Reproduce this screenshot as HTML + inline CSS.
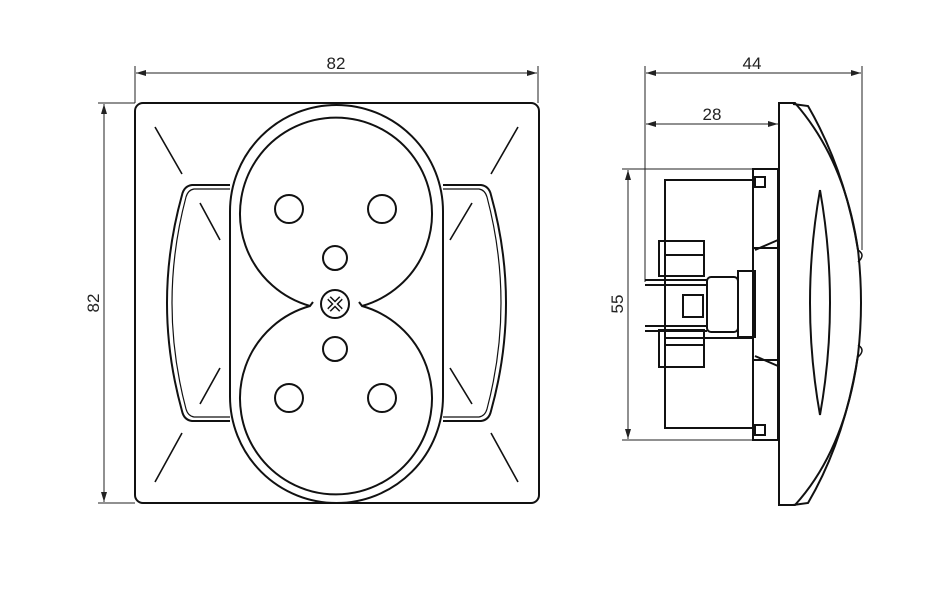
<!DOCTYPE html>
<html><head><style>html,body{margin:0;background:#fff}svg{display:block}</style></head><body>
<svg width="931" height="608" viewBox="0 0 931 608" xmlns="http://www.w3.org/2000/svg">
<defs><marker id="a" viewBox="0 0 10 6" refX="10" refY="3" markerWidth="10" markerHeight="6" orient="auto-start-reverse"><path d="M0,0 L10,3 L0,6z" fill="#222"/></marker></defs>
<g fill="none" stroke="#222" stroke-width="1">
<line x1="135" y1="66" x2="135" y2="103"/><line x1="538" y1="66" x2="538" y2="103"/>
<line x1="136" y1="73" x2="537" y2="73" marker-start="url(#a)" marker-end="url(#a)"/>
<line x1="98" y1="103" x2="135" y2="103"/><line x1="98" y1="503" x2="135" y2="503"/>
<line x1="104" y1="104" x2="104" y2="502" marker-start="url(#a)" marker-end="url(#a)"/>
</g>
<g fill="none" stroke="#111" stroke-width="2">
<rect x="135" y="103" width="404" height="400" rx="8"/>
<rect x="230" y="105" width="213" height="398" rx="106.5"/>
<path d="M313,302 L310,306 A96,96 0 1 1 362,306 L359,302" />
<path d="M310,306 A96,96 0 1 0 362,306"/>
<circle cx="289" cy="209" r="14"/><circle cx="382" cy="209" r="14"/><circle cx="335" cy="258" r="12"/>
<circle cx="335" cy="349" r="12"/><circle cx="289" cy="398" r="14"/><circle cx="382" cy="398" r="14"/>
<circle cx="335" cy="304" r="14"/>
<path d="M329,298 L341,310 M341,298 L329,310" stroke-width="5"/>
<path d="M329,298 L341,310 M341,298 L329,310" stroke="#fff" stroke-width="2"/>
<path d="M230,185 L192,185 Q184,186 182,195 Q152,303 182,411 Q184,420 192,421 L230,421"/>
<path d="M230,189 L194,189 Q188,190 186,197 Q158,303 186,409 Q188,416 194,417 L230,417" stroke-width="1.2"/>
<path d="M443,185 L481,185 Q489,186 491,195 Q521,303 491,411 Q489,420 481,421 L443,421"/>
<path d="M443,189 L479,189 Q485,190 487,197 Q515,303 487,409 Q485,416 479,417 L443,417" stroke-width="1.2"/>
<path d="M155,127 L182,174 M518,127 L491,174 M155,482 L182,433 M518,482 L491,433 M200,203 L220,240 M200,404 L220,368 M472,203 L450,240 M450,368 L472,404" stroke-width="1.6"/>
</g>
<g fill="none" stroke="#222" stroke-width="1">
<line x1="645" y1="66" x2="645" y2="282"/><line x1="862" y1="66" x2="862" y2="250"/>
<line x1="646" y1="73" x2="861" y2="73" marker-start="url(#a)" marker-end="url(#a)"/>
<line x1="646" y1="124" x2="778" y2="124" marker-start="url(#a)" marker-end="url(#a)"/>
<line x1="622" y1="169" x2="775" y2="169"/><line x1="622" y1="440" x2="775" y2="440"/>
<line x1="628" y1="170" x2="628" y2="439" marker-start="url(#a)" marker-end="url(#a)"/>
</g>
<g fill="none" stroke="#111" stroke-width="2">
<path d="M779,103 L795,103 Q845,160 858,250 Q864,303 858,355 Q845,450 795,505 L779,505 Z"/>
<path d="M793,104 L808,106 Q845,170 858,250 M858,355 Q845,440 808,503 L793,505"/>
<path d="M820,190 Q800,303 820,415 Q840,303 820,190"/>
<path d="M858,250 Q866,255 858,262 M858,345 Q866,350 858,357" stroke-width="1.5"/>
<rect x="665" y="180" width="88" height="158"/>
<rect x="665" y="338" width="88" height="90"/>
<rect x="753" y="169" width="25" height="271"/>
<rect x="755" y="177" width="10" height="10"/><rect x="755" y="425" width="10" height="10"/>
<rect x="659" y="241" width="45" height="35"/><rect x="659" y="330" width="45" height="37"/>
<path d="M665,255 L704,255 M665,345 L704,345 M753,248 L778,248 M753,360 L778,360 M755,250 L778,240 M755,356 L778,366"/>
<rect x="738" y="271" width="17" height="66"/>
<rect x="707" y="277" width="31" height="55" rx="4"/>
<rect x="683" y="295" width="20" height="22"/>
<line x1="645" y1="280" x2="707" y2="280"/><line x1="645" y1="285" x2="707" y2="285"/>
<line x1="645" y1="326" x2="707" y2="326"/><line x1="645" y1="331" x2="707" y2="331"/>
</g>
<g font-family="Liberation Sans, sans-serif" font-size="17" fill="#222" text-anchor="middle">
<text x="336" y="69">82</text>
<text x="0" y="0" transform="translate(99,303) rotate(-90)">82</text>
<text x="752" y="69">44</text>
<text x="712" y="120">28</text>
<text x="0" y="0" transform="translate(623,304) rotate(-90)">55</text>
</g>
</svg>
</body></html>
